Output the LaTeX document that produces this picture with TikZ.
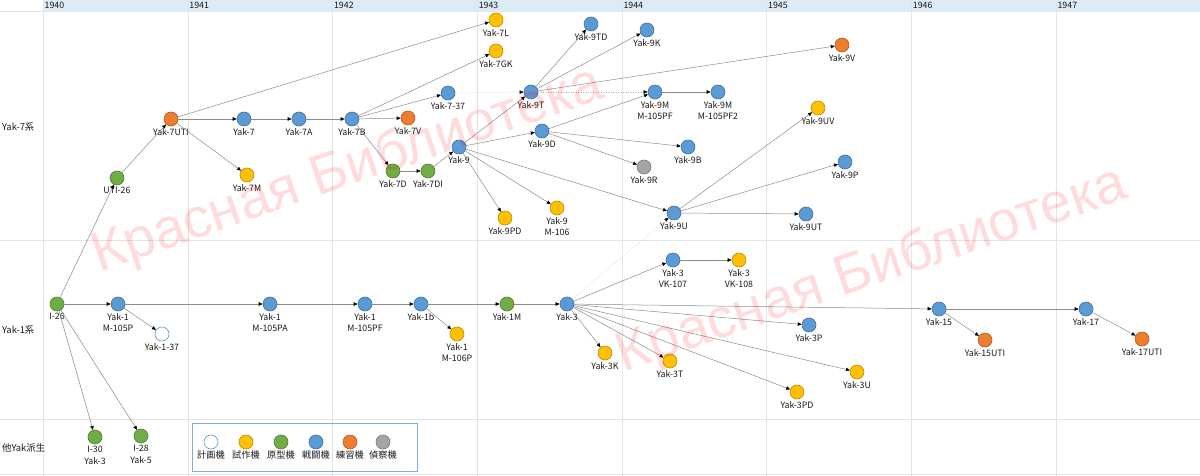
\documentclass[tikz,border=0pt]{standalone}
\usepackage{fontspec}
\setmainfont{Noto Sans CJK JP}
\newfontfamily\wmfont{Liberation Sans}
\usetikzlibrary{arrows.meta,positioning}
\definecolor{headbg}{HTML}{DDEBF7}
\definecolor{gridline}{HTML}{E4E4E4}
\definecolor{blueplane}{HTML}{5B9BD5}
\definecolor{blueedge}{HTML}{41719C}
\definecolor{orangeplane}{HTML}{ED7D31}
\definecolor{orangeedge}{HTML}{AE5A21}
\definecolor{yellowplane}{HTML}{FFC000}
\definecolor{yellowedge}{HTML}{BC8C00}
\definecolor{greenplane}{HTML}{70AD47}
\definecolor{greenedge}{HTML}{507E32}
\definecolor{grayplane}{HTML}{A5A5A5}
\definecolor{grayedge}{HTML}{787878}
\definecolor{linkgray}{HTML}{8C8C8C}
\definecolor{textdark}{HTML}{1A1A1A}

\begin{document}
\begin{tikzpicture}[x=1pt,y=-1pt,
    plane/.style={circle,minimum size=14pt,inner sep=0pt,line width=0.6pt},
    fighter/.style={plane,fill=blueplane,draw=blueedge},
    trainer/.style={plane,fill=orangeplane,draw=orangeedge},
    testbed/.style={plane,fill=yellowplane,draw=yellowedge},
    proto/.style={plane,fill=greenplane,draw=greenedge},
    recon/.style={plane,fill=grayplane,draw=grayedge},
    project/.style={plane,fill=white,draw=blueplane},
    tag/.style={font=\fontsize{8.8}{11.5}\selectfont,align=center,inner sep=0.4pt,text=textdark},
    keytag/.style={tag,font=\fontsize{9.2}{11.5}\selectfont},
    rowtag/.style={font=\fontsize{9.4}{11}\selectfont,anchor=west,inner sep=0pt,text=textdark},
    link/.style={draw=linkgray,line width=0.5pt,-{Triangle[length=4pt,width=3.4pt,black]}},
    plink/.style={link,dotted,draw=linkgray!70}]
  \useasboundingbox (0,0) rectangle (1200,476);
  \fill[white] (0,0) rectangle (1200,476);

  % year grid
  \fill[headbg] (43,0) rectangle (1200,11);
  \foreach \yr in {1940,...,1947}{
    \pgfmathsetmacro{\gx}{43+144.7*(\yr-1940)}
    \draw[gridline] (\gx,0) -- (\gx,476);
    \node[rowtag,font=\fontsize{8.8}{10}\selectfont] (yr\yr) at (\gx+1.5,5.5) {\yr};
  }
  \foreach \gy in {11,240,419,474}{
    \draw[gridline] (0,\gy) -- (1200,\gy);
  }
  \node[rowtag] (row7) at (2,127) {Yak-7系};
  \node[rowtag] (row1) at (2,330) {Yak-1系};
  \node[rowtag] (rowx) at (2,448) {他Yak派生};

  % planes by class
  \foreach \n/\x/\y/\t in {Yak7/244/119/Yak-7, Yak7A/299/119/Yak-7A, Yak7B/352/119/Yak-7B,
      Yak737/448/93/Yak-7-37, Yak9/459/147/Yak-9, Yak9T/531/92/Yak-9T, Yak9D/542/131/Yak-9D,
      Yak9TD/591/24/Yak-9TD, Yak9K/647/30/Yak-9K, Yak9M/655/92/{Yak-9M\\M-105PF},
      Yak9Mb/718/92/{Yak-9M\\M-105PF2}, Yak9B/688/147/Yak-9B, Yak9U/674/213/Yak-9U,
      Yak9P/845/162/Yak-9P, Yak9UT/806/214/Yak-9UT,
      Yak1/118/304/{Yak-1\\M-105P}, Yak1PA/270/304/{Yak-1\\M-105PA}, Yak1PF/365/304/{Yak-1\\M-105PF},
      Yak1b/421/304/Yak-1b, Yak3/567/304/Yak-3, Yak3VK/673/260/{Yak-3\\VK-107},
      Yak3P/809/325/Yak-3P, Yak15/939/309/Yak-15, Yak17/1086/309/Yak-17}{
    \node[fighter] (\n) at (\x,\y) {};
    \node[tag,below=1.5pt of \n] (\n-t) {\t};
  }
  \foreach \n/\x/\y/\t in {Yak7UTI/171/119/Yak-7UTI, Yak7V/408/118/Yak-7V, Yak9V/842/45/Yak-9V,
      Yak15UTI/985/340/Yak-15UTI, Yak17UTI/1142/339/Yak-17UTI}{
    \node[trainer] (\n) at (\x,\y) {};
    \node[tag,below=1.5pt of \n] (\n-t) {\t};
  }
  \foreach \n/\x/\y/\t in {Yak7M/247/175/Yak-7M, Yak7L/496/20/Yak-7L, Yak7GK/496/51/Yak-7GK,
      Yak9PD/505/218/Yak-9PD, Yak9MK/557/208/{Yak-9\\M-106}, Yak9UV/818/108/Yak-9UV,
      Yak1MK/457/334/{Yak-1\\M-106P}, Yak3VKb/739/260/{Yak-3\\VK-108}, Yak3K/605/353/Yak-3K,
      Yak3T/670/361/Yak-3T, Yak3PD/797/392/Yak-3PD, Yak3U/857/372/Yak-3U}{
    \node[testbed] (\n) at (\x,\y) {};
    \node[tag,below=1.5pt of \n] (\n-t) {\t};
  }
  \foreach \n/\x/\y/\t in {UTI26/117/178/UTI-26, Yak7D/393/171/Yak-7D, Yak7DI/428/171/Yak-7DI,
      I26/57/304/I-26, Yak1M/507/304/Yak-1M, I30/95/437/{I-30\\Yak-3}, I28/141/436/{I-28\\Yak-5}}{
    \node[proto] (\n) at (\x,\y) {};
    \node[tag,below=1.5pt of \n] (\n-t) {\t};
  }
  \node[recon] (Yak9R) at (644,167) {};
  \node[tag,below=1.5pt of Yak9R] (Yak9R-t) {Yak-9R};
  \node[project] (Yak137) at (162,334) {};
  \node[tag,below=1.5pt of Yak137] (Yak137-t) {Yak-1-37};

  % lineage
  \foreach \a/\b in {I26/UTI26, UTI26/Yak7UTI, Yak7UTI/Yak7, Yak7UTI/Yak7M, Yak7UTI/Yak7L,
      Yak7/Yak7A, Yak7A/Yak7B, Yak7B/Yak7GK, Yak7B/Yak737, Yak7B/Yak7V, Yak7B/Yak7D,
      Yak7D/Yak7DI, Yak7DI/Yak9, Yak9/Yak9T, Yak9/Yak9D, Yak9/Yak9PD, Yak9/Yak9MK, Yak9/Yak9U,
      Yak9T/Yak9TD, Yak9T/Yak9K, Yak9T/Yak9V, Yak9D/Yak9M, Yak9D/Yak9B, Yak9D/Yak9R,
      Yak9M/Yak9Mb, Yak9U/Yak9UV, Yak9U/Yak9P, Yak9U/Yak9UT,
      I26/Yak1, I26/I30, I26/I28, Yak1/Yak137, Yak1/Yak1PA, Yak1PA/Yak1PF, Yak1PF/Yak1b,
      Yak1b/Yak1MK, Yak1b/Yak1M, Yak1M/Yak3, Yak3/Yak3VK, Yak3VK/Yak3VKb, Yak3/Yak3K,
      Yak3/Yak3T, Yak3/Yak3PD, Yak3/Yak3U, Yak3/Yak3P, Yak3/Yak15, Yak15/Yak15UTI,
      Yak15/Yak17, Yak17/Yak17UTI}{
    \draw[link] (\a) -- (\b);
  }
  \draw[plink] (Yak737) -- (Yak9T);
  \draw[plink] (Yak9T) -- (Yak9M);
  \draw[plink] (Yak3) -- (Yak9U);

  % legend
  \draw[blueplane!80,line width=0.9pt] (192,423) rectangle (417,471);
  \node[project] (lg1) at (211,442) {};
  \node[testbed] (lg2) at (246,442) {};
  \node[proto] (lg3) at (281,442) {};
  \node[fighter] (lg4) at (316,442) {};
  \node[trainer] (lg5) at (350,442) {};
  \node[recon] (lg6) at (383,442) {};
  \node[keytag,below=0.5pt of lg1] (lg1-t) {計画機};
  \node[keytag,below=0.5pt of lg2] (lg2-t) {試作機};
  \node[keytag,below=0.5pt of lg3] (lg3-t) {原型機};
  \node[keytag,below=0.5pt of lg4] (lg4-t) {戦闘機};
  \node[keytag,below=0.5pt of lg5] (lg5-t) {練習機};
  \node[keytag,below=0.5pt of lg6] (lg6-t) {偵察機};

  % watermark
  \node[rotate=19,text=red,text opacity=0.14,inner sep=0pt,font=\wmfont\fontsize{56}{60}\selectfont] (wm1) at (348,171) {Красная Библиотека};
  \node[rotate=19,text=red,text opacity=0.14,inner sep=0pt,font=\wmfont\fontsize{56}{60}\selectfont] (wm2) at (872,271) {Красная Библиотека};
\end{tikzpicture}
\end{document}
